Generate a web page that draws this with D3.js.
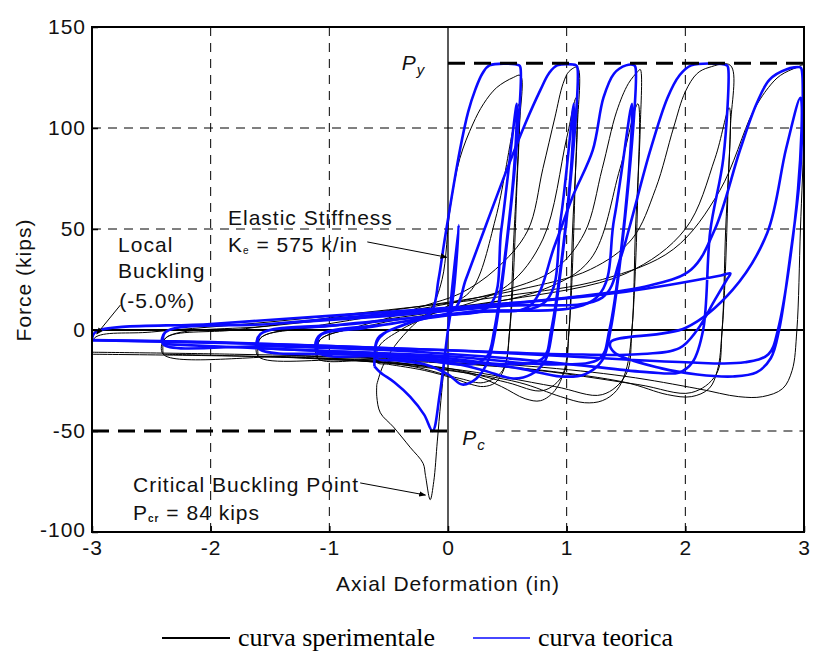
<!DOCTYPE html>
<html>
<head>
<meta charset="utf-8">
<script src="https://cdn.jsdelivr.net/npm/d3@7"></script>
<style>
  body { margin: 0; background: #fff; }
  .lab { font-family: "Liberation Sans", Arial, sans-serif; font-size: 21px; fill: #111; letter-spacing: 1px; }
  .leg { font-family: "Liberation Serif", "Times New Roman", serif; font-size: 26px; fill: #000; }
</style>
</head>
<body>
<svg id="mainSvg" width="814" height="651"></svg>
<script>
// axis ticks
var xTicks = [-3, -2, -1, 0, 1, 2, 3];
var yTicks = [-100, -50, 0, 50, 100, 150];
var xGrid = [-2, -1, 1, 2];
var yGrid = [100, 50];
var Py = 132, Pc = -50;

// theoretical curve (blue), [deformation in, force kips]
var teoricaCycle0 = [[0,0],[0.09,52],[0.05,20],[0,0],[-0.07,-32],[-0.13,-50],[-0.2,-42],[-0.32,-33],[-0.45,-26],[-0.57,-21],[-0.62,-18]];
var teoricaCycle1 = [[-0.62,-18],[-0.6,-6],[-0.52,-1],[-0.3,4],[-0.14,9],[-0.08,25],[-0.03,44],[0.1,89],[0.17,108],[0.23,119],[0.29,127],[0.35,131],[0.6,131],[0.61,130],
  [0.57,85],[0.4,0],[0.34,-15],[0.24,-24],[0.12,-27],[0,-22],[-0.2,-17],[-0.45,-15],[-0.6,-14],
  [-0.59,-4],[-0.4,2],[-0.1,7],[0.35,12],[0.45,50],[0.58,112],
  [0.55,75],[0.39,0],[0.33,-13],[0.2,-17],[-0.2,-15],[-0.6,-13],[-1.1,-11]];
var teoricaCycle2 = [[-1.1,-11],[-1.08,-3],[-0.7,1],[-0.3,5],[0.05,10],[0.15,25],[0.27,44],[0.5,80],[0.65,102],[0.78,119],[0.85,127],[0.92,131],[1.08,131],[1.09,130],
  [1.05,85],[0.88,0],[0.82,-15],[0.7,-22],[0.55,-24],[0.3,-20],[0,-16],[-0.5,-13],[-1.1,-11],
  [-1.09,-3],[-0.5,3],[0.2,9],[0.82,14],[0.95,55],[1.06,112],
  [1.03,75],[0.87,0],[0.8,-14],[0.5,-17],[0,-14],[-0.8,-11],[-1.6,-9]];
var teoricaCycle3 = [[-1.6,-9],[-1.58,-2],[-1,2],[-0.3,6],[0.3,9],[0.69,12],[0.9,42],[1.05,66],[1.22,89],[1.31,115],[1.4,127],[1.5,131],[1.57,131],[1.58,130],
  [1.54,85],[1.37,0],[1.3,-15],[1.15,-22],[0.95,-23],[0.6,-19],[0,-15],[-0.8,-12],[-1.6,-9],
  [-1.58,-2],[-0.8,3],[0.2,9],[1.25,16],[1.4,55],[1.55,112],
  [1.52,75],[1.36,0],[1.28,-14],[0.9,-17],[0,-13],[-1.2,-10],[-2.4,-7]];
var teoricaCycle4 = [[-2.4,-7],[-2.38,-1],[-1.5,3],[-0.5,7],[0.5,12],[1.3,16],[1.45,35],[1.53,51],[1.7,88],[1.85,115],[1.95,126],[2.05,131],[2.35,131],[2.36,130],
  [2.32,85],[2.21,49],[2.15,0],[2.06,-16],[1.95,-21],[1.7,-21],[1.2,-18],[0.5,-14],[-0.5,-10],[-1.5,-8],[-2.4,-7],
  [-2.38,-1],[-1.5,3],[-0.5,8],[0.5,13],[1.5,19],[2.3,27],[2.38,28],[2.35,25],
  [2.25,15],[2.1,0],[1.95,-9],[1.6,-12],[1,-12],[0,-10],[-1,-8],[-2,-6],[-3,-5]];
var teoricaCycle5 = [[-3,-5],[-2.97,-1],[-2,3],[-1,7],[0,11],[1,16],[1.7,22],[2.05,30],[2.25,50],[2.46,89],[2.6,112],[2.71,124],[2.85,129],[2.97,130],[2.98,129],
  [2.97,80],[2.88,35],[2.79,0],[2.72,-14],[2.6,-21],[2.4,-23],[2.1,-22],[1.8,-19],[1.4,-11],
  [1.37,-6],[2.0,1],[2.4,20],[2.69,48],[2.85,90],[2.97,115],
  [2.95,70],[2.78,0],[2.7,-12],[2.5,-16],[2,-16],[1,-13],[0,-10],[-1.5,-7],[-3,-5]];

// experimental curve (black)
var sperimentaleCycle0 = [[0,0],[0.07,40],[0.03,12],[0,0],[-0.06,-35],[-0.09,-55],[-0.12,-75],[-0.15,-84],[-0.19,-72],[-0.21,-66],[-0.32,-58],[-0.46,-48],[-0.57,-41],[-0.6,-33],[-0.6,-27]];
var sperimentaleCycle1 = [[-0.6,-27],[-0.55,-18],[-0.45,-8],[-0.3,2],[-0.15,10],[-0.05,25],[0.02,61],[0.1,85],[0.21,102],[0.3,112],[0.41,120],[0.55,125],[0.61,126],
  [0.6,100],[0.55,40],[0.52,0],[0.48,-18],[0.4,-26],[0.3,-28],[0.2,-27],[0.05,-24],[-0.2,-20],[-0.5,-17],[-0.6,-16],
  [-0.58,-8],[-0.4,0],[-0.2,6],[0,12],[0.2,20],[0.4,55],[0.55,100],[0.6,112],
  [0.58,70],[0.52,0],[0.46,-20],[0.3,-26],[0.1,-24],[-0.3,-18],[-0.7,-15],[-1.1,-14]];
var sperimentaleCycle2 = [[-1.1,-14],[-1.08,-5],[-0.8,1],[-0.5,6],[-0.2,12],[0.1,18],[0.4,30],[0.67,49],[0.8,80],[0.9,105],[0.97,122],[1.02,128],[1.09,130],
  [1.09,100],[1.05,50],[1.02,0],[0.98,-20],[0.9,-30],[0.78,-35],[0.65,-34],[0.45,-28],[0.2,-22],[-0.2,-18],[-0.6,-15],[-1.1,-14],
  [-1.08,-5],[-0.6,3],[0,10],[0.5,22],[0.8,45],[1.0,95],[1.08,115],
  [1.07,70],[1.02,0],[0.97,-22],[0.8,-30],[0.5,-26],[0,-19],[-0.8,-15],[-1.6,-13]];
var sperimentaleCycle3 = [[-1.6,-13],[-1.58,-4],[-1.2,1],[-0.6,7],[0,13],[0.5,20],[0.9,30],[1.15,48],[1.3,80],[1.42,108],[1.52,122],[1.6,128],[1.62,129],
  [1.62,100],[1.58,50],[1.55,0],[1.5,-20],[1.42,-30],[1.3,-35],[1.15,-36],[0.95,-33],[0.6,-26],[0,-20],[-0.8,-15],[-1.6,-13],
  [-1.58,-4],[-0.8,3],[0,10],[0.8,20],[1.2,35],[1.45,80],[1.6,112],
  [1.6,70],[1.55,0],[1.5,-22],[1.3,-32],[0.9,-28],[0,-19],[-1.2,-14],[-2.4,-12]];
var sperimentaleCycle4 = [[-2.4,-12],[-2.38,-4],[-1.8,0],[-1,6],[-0.2,12],[0.6,20],[1.2,30],[1.55,45],[1.75,70],[1.9,100],[2.0,118],[2.1,127],[2.2,130],[2.38,131],
  [2.38,100],[2.34,50],[2.31,0],[2.27,-20],[2.2,-29],[2.05,-33],[1.85,-32],[1.5,-26],[0.8,-20],[0,-16],[-1.2,-13],[-2.4,-12],
  [-2.38,-4],[-1.5,2],[-0.5,8],[0.5,15],[1.5,28],[2.0,50],[2.25,85],[2.37,110],
  [2.36,70],[2.31,0],[2.26,-22],[2.05,-31],[1.6,-27],[0.6,-19],[-1,-14],[-3,-12]];
var sperimentaleCycle5 = [[-3,-12],[-2.98,-4],[-2.5,-1],[-1.5,4],[-0.5,10],[0.5,17],[1.3,25],[1.9,40],[2.29,69],[2.57,108],[2.7,120],[2.8,126],[2.94,130],[3.0,131],
  [3.0,100],[2.97,50],[2.94,0],[2.9,-20],[2.82,-29],[2.65,-33],[2.45,-33],[2.1,-29],[1.5,-23],[0.7,-18],[-0.5,-14],[-1.8,-12],[-3,-11]];

var teorica = [teoricaCycle0, teoricaCycle1, teoricaCycle2, teoricaCycle3, teoricaCycle4, teoricaCycle5];
var sperimentale = [sperimentaleCycle0, sperimentaleCycle1, sperimentaleCycle2, sperimentaleCycle3, sperimentaleCycle4, sperimentaleCycle5];

var svg = d3.select("#mainSvg");
var x = d3.scaleLinear().domain([-3, 3]).range([92, 804]);
var y = d3.scaleLinear().domain([-100, 150]).range([532, 27]);

svg.append("defs").append("clipPath").attr("id", "plotClip")
  .append("rect").attr("x", 92).attr("y", 27).attr("width", 712).attr("height", 505);

var marker = svg.select("defs").append("marker")
  .attr("id", "arr").attr("viewBox", "0 0 10 10").attr("refX", 9).attr("refY", 5)
  .attr("markerWidth", 7).attr("markerHeight", 7).attr("orient", "auto");
marker.append("path").attr("d", "M0,1 L10,5 L0,9 z").attr("fill", "#000");

// grid
var grid = svg.append("g");
grid.selectAll(".vg").data(xGrid).enter().append("line")
  .attr("x1", d => x(d)).attr("x2", d => x(d)).attr("y1", y(150)).attr("y2", y(-100))
  .attr("stroke", "#000").attr("stroke-width", 1).attr("stroke-dasharray", "9,7");
grid.selectAll(".hg").data(yGrid).enter().append("line")
  .attr("x1", x(-3)).attr("x2", x(3)).attr("y1", d => y(d)).attr("y2", d => y(d))
  .attr("stroke", "#000").attr("stroke-width", 1).attr("stroke-dasharray", "9,7");
// -50 grid on the right half
grid.append("line").attr("x1", x(0.4)).attr("x2", x(3)).attr("y1", y(Pc)).attr("y2", y(Pc))
  .attr("stroke", "#000").attr("stroke-width", 1).attr("stroke-dasharray", "9,7");

// zero lines
svg.append("line").attr("x1", x(-3)).attr("x2", x(3)).attr("y1", y(0)).attr("y2", y(0))
  .attr("stroke", "#000").attr("stroke-width", 2);
svg.append("line").attr("x1", x(0)).attr("x2", x(0)).attr("y1", y(150)).attr("y2", y(-100))
  .attr("stroke", "#000").attr("stroke-width", 1.3);

// curves
var smooth = d3.line().x(d => x(d[0])).y(d => y(d[1])).curve(d3.curveCatmullRom.alpha(0.5));
var curves = svg.append("g").attr("clip-path", "url(#plotClip)");
curves.selectAll(".sper").data(sperimentale).enter().append("path")
  .attr("d", smooth).attr("fill", "none").attr("stroke", "#000").attr("stroke-width", 1);
curves.selectAll(".teo").data(teorica).enter().append("path")
  .attr("d", smooth).attr("fill", "none").attr("stroke", "#0a0aff").attr("stroke-width", 2.6)
  .attr("stroke-linejoin", "round");

// Py and Pc levels
svg.append("line").attr("x1", x(0)).attr("x2", x(3)).attr("y1", y(Py)).attr("y2", y(Py))
  .attr("stroke", "#000").attr("stroke-width", 3).attr("stroke-dasharray", "17,9");
svg.append("line").attr("x1", x(-3)).attr("x2", x(0.02)).attr("y1", y(Pc)).attr("y2", y(Pc))
  .attr("stroke", "#000").attr("stroke-width", 3).attr("stroke-dasharray", "17,9");

// frame
svg.append("rect").attr("x", 92).attr("y", 27).attr("width", 712).attr("height", 505)
  .attr("fill", "none").attr("stroke", "#000").attr("stroke-width", 2);

// axes
var xAxis = svg.append("g").attr("transform", "translate(0,532)")
  .call(d3.axisBottom(x).tickValues(xTicks).tickSizeInner(-6).tickSizeOuter(0).tickPadding(8).tickFormat(d => String(d)));
xAxis.select(".domain").remove();
xAxis.selectAll("text").attr("class", "lab").attr("fill", null);
var yAxis = svg.append("g").attr("transform", "translate(92,0)")
  .call(d3.axisLeft(y).tickValues(yTicks).tickSizeInner(-6).tickSizeOuter(0).tickPadding(6).tickFormat(d => String(d)));
yAxis.select(".domain").remove();
yAxis.selectAll("text").attr("class", "lab").attr("fill", null);
yAxis.selectAll(".tick").filter(d => d === -100).select("text").attr("dy", "0.2em");
svg.selectAll(".tick line").attr("stroke", "#000").attr("stroke-width", 1.5);

// axis titles
svg.append("text").attr("class", "lab").attr("x", 448).attr("y", 591).attr("text-anchor", "middle")
  .text("Axial Deformation (in)");
svg.append("text").attr("class", "lab").attr("transform", "translate(31,280) rotate(-90)")
  .attr("text-anchor", "middle").text("Force (kips)");

// annotations
function note(t, dx, fy) {
  return svg.append("text").attr("class", "lab").attr("x", x(dx)).attr("y", y(fy)).text(t);
}
note("Elastic Stiffness", -1.854, 52);
var ke = note("K", -1.854, 38.6);
ke.append("tspan").attr("font-size", 10).attr("dy", 2).text("e");
ke.append("tspan").attr("dy", -2).text(" = 575 k/in");
note("Local", -2.78, 38.6);
note("Buckling", -2.78, 25.5);
note("(-5.0%)", -2.77, 10.9);
note("Critical Buckling Point", -2.654, -80.2);
var pcr = note("P", -2.654, -94);
pcr.append("tspan").attr("font-size", 10).attr("font-weight", "bold").attr("dy", 2).text("cr");
pcr.append("tspan").attr("dy", -2).text(" = 84 kips");

var py = svg.append("text").attr("class", "lab").attr("x", x(-0.39)).attr("y", y(128.5))
  .attr("font-style", "italic").attr("font-size", 24).text("P");
py.append("tspan").attr("font-size", 15).attr("dy", 5).text("y");
var pc = svg.append("text").attr("class", "lab").attr("x", x(0.12)).attr("y", y(-57))
  .attr("font-style", "italic").attr("font-size", 24).text("P");
pc.append("tspan").attr("font-size", 15).attr("dy", 5).text("c");

var arrows = [
  [[-0.68, 43.6], [-0.01, 36]],
  [[-2.76, 12.4], [-2.96, -2]],
  [[-0.74, -75.7], [-0.19, -81.7]]
];
svg.selectAll(".arrow").data(arrows).enter().append("line")
  .attr("x1", d => x(d[0][0])).attr("y1", d => y(d[0][1]))
  .attr("x2", d => x(d[1][0])).attr("y2", d => y(d[1][1]))
  .attr("stroke", "#000").attr("stroke-width", 1).attr("marker-end", "url(#arr)");

// legend
var legendItems = [
  { label: "curva sperimentale", color: "#000", width: 2.2, x0: 162, x1: 230 },
  { label: "curva teorica", color: "#0a0aff", width: 1.6, x0: 473, x1: 530 }
];
var leg = svg.selectAll(".legItem").data(legendItems).enter().append("g");
leg.append("line").attr("x1", d => d.x0).attr("x2", d => d.x1).attr("y1", 638).attr("y2", 638)
  .attr("stroke", d => d.color).attr("stroke-width", d => d.width);
leg.append("text").attr("class", "leg").attr("x", d => d.x1 + 8).attr("y", 646).text(d => d.label);
</script>
</body>
</html>
